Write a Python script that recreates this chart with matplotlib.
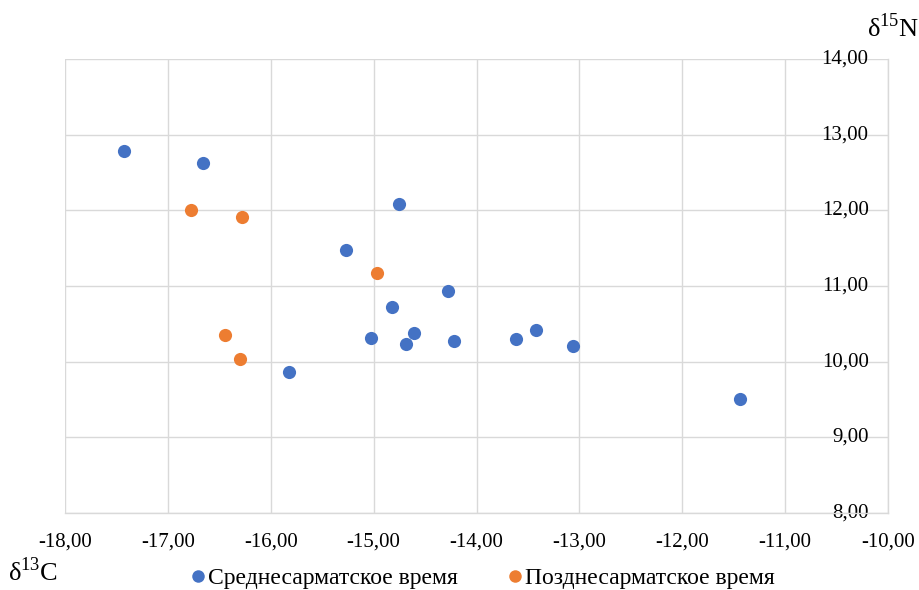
import numpy as np
import matplotlib
matplotlib.use("Agg")
import matplotlib.pyplot as plt
from matplotlib.ticker import FuncFormatter
from matplotlib.lines import Line2D

# δ13C / δ15N values
mid_x = [-17.43, -16.66, -14.75, -15.27, -14.28, -14.82, -15.03, -14.61,
         -14.69, -14.22, -15.82, -13.62, -13.42, -13.06, -11.44]
mid_y = [12.78, 12.62, 12.09, 11.47, 10.93, 10.72, 10.31, 10.38,
         10.24, 10.27, 9.86, 10.30, 10.42, 10.21, 9.51]
late_x = [-16.78, -16.28, -14.97, -16.44, -16.30]
late_y = [12.00, 11.91, 11.17, 10.35, 10.03]

series_names = ['Среднесарматское время', 'Позднесарматское время']
series_colors = ['#4472C4', '#ED7D31']
x_ticks = np.arange(-18, -9, 1)
y_ticks = np.arange(8, 15, 1)

plt.rcParams['font.family'] = ['Liberation Serif', 'DejaVu Serif']
plt.rcParams['mathtext.fontset'] = 'custom'
plt.rcParams['mathtext.rm'] = 'Liberation Serif'

grid_c = '#d9d9d9'

fig = plt.figure(figsize=(9.19, 5.90), dpi=100)
ax = fig.add_axes([65/919, 1 - 513/590, (888 - 65)/919, (513 - 59)/590])

ax.scatter(mid_x, mid_y, s=90, color=series_colors[0], zorder=3, linewidths=0)
ax.scatter(late_x, late_y, s=90, color=series_colors[1], zorder=3, linewidths=0)

ax.set_xlim(-18, -10)
ax.set_ylim(8, 14)
ax.set_xticks(x_ticks)
ax.set_yticks(y_ticks)

fmt = FuncFormatter(lambda v, p: f'{v:.2f}'.replace('.', ','))
ax.xaxis.set_major_formatter(fmt)
ax.yaxis.set_major_formatter(fmt)

ax.grid(True, color=grid_c, linewidth=1.0, zorder=0)
ax.set_axisbelow(True)

# vertical axis crosses at x = -10 (Excel style), labels to its left
ax.spines['left'].set_position(('data', -10))
ax.spines['right'].set_visible(False)
ax.spines['top'].set_visible(False)
for s in ['left', 'bottom']:
    ax.spines[s].set_color(grid_c)
    ax.spines[s].set_linewidth(1.0)

ax.tick_params(axis='both', length=0, labelsize=15, colors='#000000')
ax.tick_params(axis='x', pad=14)
ax.tick_params(axis='y', pad=14)
for lbl in ax.get_yticklabels():
    lbl.set_verticalalignment('center')

fig.text(893/919, 1 - 28/590, r'δ$^{\mathregular{15}}$N', fontsize=19,
         ha='center', va='center')
fig.text(33/919, 1 - 572/590, r'δ$^{\mathregular{13}}$C', fontsize=19,
         ha='center', va='center')

handles = [Line2D([], [], marker='o', linestyle='none', markersize=9,
                  color=c, markeredgewidth=0) for c in series_colors]
fig.legend(handles, series_names, loc='center', ncol=2, frameon=False,
           bbox_to_anchor=(0.524, 1 - 578/590), fontsize=17,
           handletextpad=0.05, columnspacing=2.0, handlelength=0.8)

fig.savefig('out.png', dpi=100)
